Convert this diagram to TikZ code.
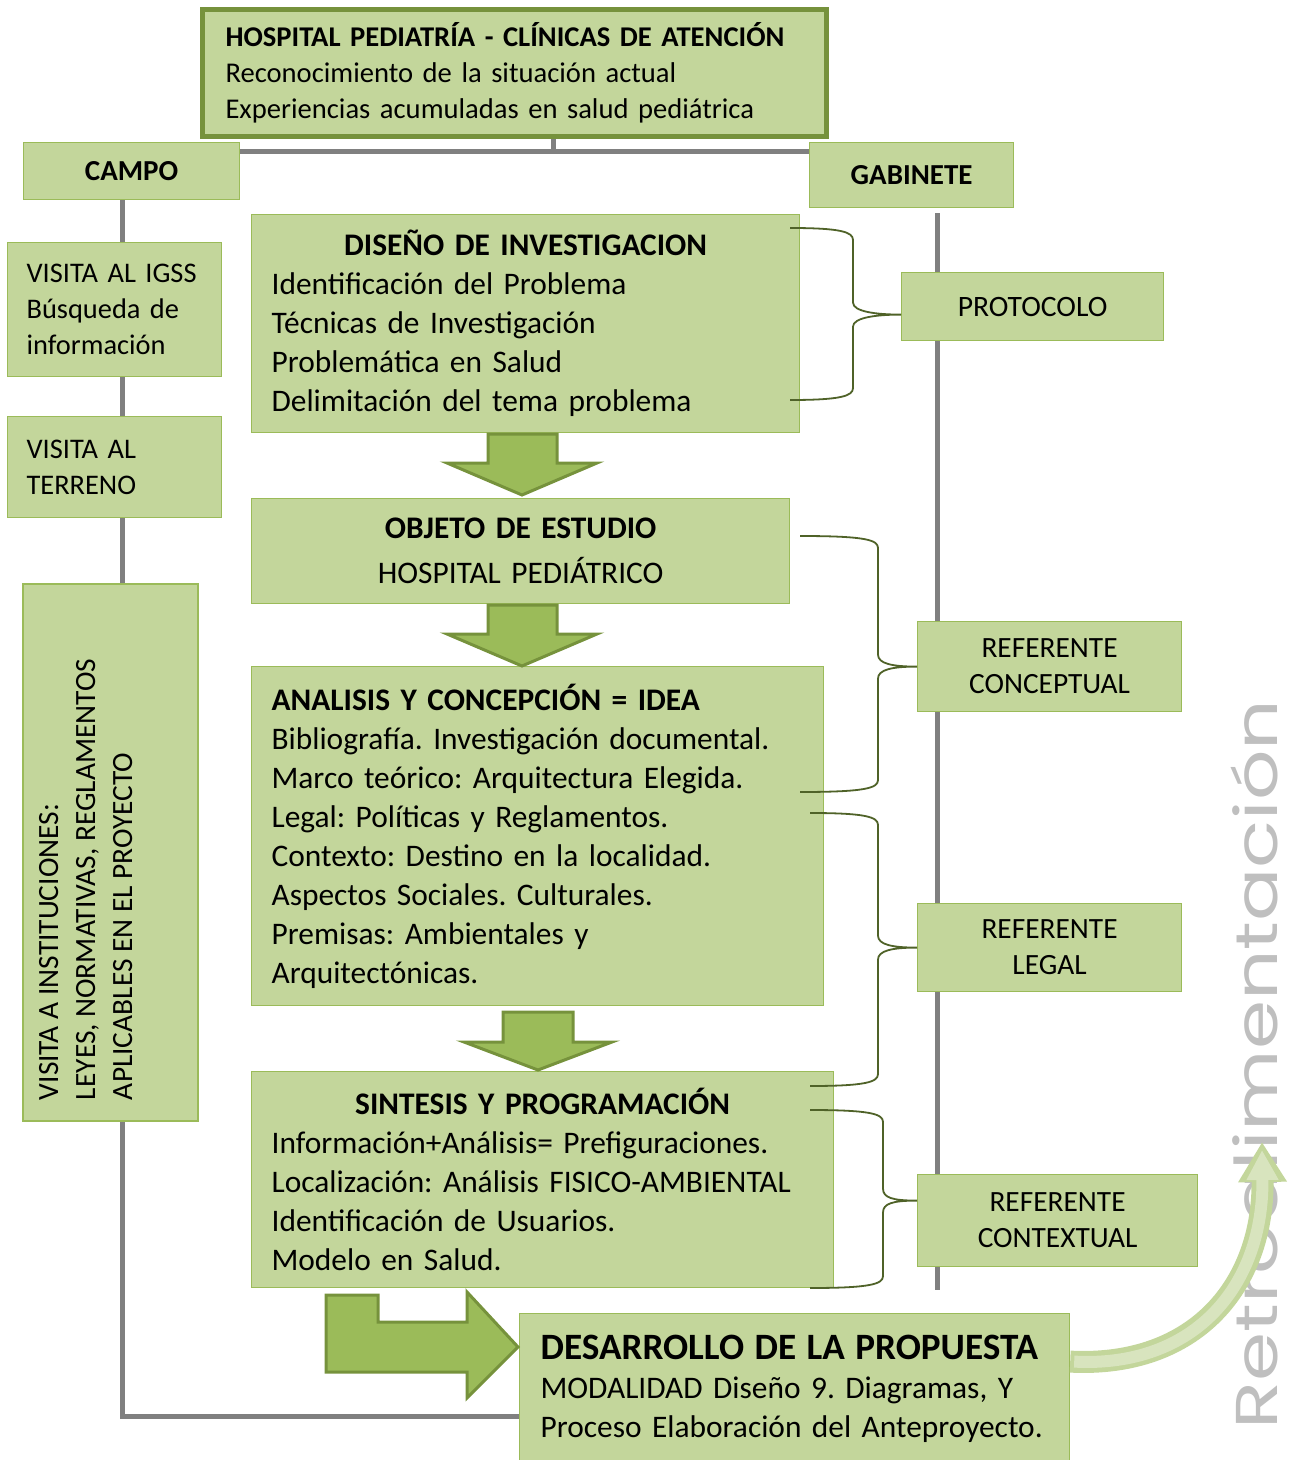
\documentclass[tikz,border=0pt]{standalone}
\usepackage{fontspec}
\setmainfont{Carlito}
\newfontfamily\retrofont{Poppins}
\usepackage{graphicx}
\usepackage{tikz}
\usetikzlibrary{positioning, arrows.meta, calc, backgrounds}
\definecolor{boxfill}{HTML}{C3D69B}
\definecolor{boxline}{HTML}{9BBB59}
\definecolor{darkline}{HTML}{76923C}
\definecolor{arrowfill}{HTML}{9BBB59}
\definecolor{bracecol}{HTML}{4F6228}
\definecolor{trunkgray}{HTML}{808080}
\definecolor{retrogray}{HTML}{BFBFBF}
\definecolor{retrolight}{HTML}{D8E4BE}
\frenchspacing

% centred title line inside a left aligned box
\newcommand{\titulo}[1]{\makebox[\linewidth]{\bfseries #1}}
% curly bracket: upper end, lower end, tip, spine
\newcommand{\llave}[4]{%
  \draw[brace] (#1) .. controls ($(#1 -| #4)+(-12,0)$) and ($(#1 -| #4)+(0,4)$) .. ($(#1 -| #4)+(0,12)$)
    -- ($(#3 -| #4)+(0,-12)$) .. controls ($(#3 -| #4)+(0,-3)$) and ($(#3)+(-25,0)$) .. (#3)
    .. controls ($(#3)+(-25,0)$) and ($(#3 -| #4)+(0,3)$) .. ($(#3 -| #4)+(0,12)$)
    -- ($(#2 -| #4)+(0,-12)$) .. controls ($(#2 -| #4)+(0,-4)$) and ($(#2 -| #4)+(-12,0)$) .. (#2);
}

\begin{document}
\begin{tikzpicture}[
        x={(0.5pt,0)}, y={(0,-0.5pt)},
        box/.style={draw=boxline, fill=boxfill, line width=0.6pt, inner xsep=10pt, inner ysep=0pt,
            anchor=north west, font=\fontsize{14.5}{18}\selectfont},
        listbox/.style={box, align=left, font=\fontsize{15.7}{19.5}\selectfont},
        tagbox/.style={box, align=center},
        trunk/.style={draw=trunkgray, line width=2.5pt},
        brace/.style={draw=bracecol, line width=0.9pt},
        blockarrow/.style={fill=arrowfill, draw=darkline, line width=1.5pt, line join=miter},
        retroarrow/.style={draw=boxfill, line width=11pt, -{Triangle[length=20pt, width=23pt]}},
        retroinner/.style={draw=retrolight, line width=6pt, -{Triangle[length=15pt, width=15pt]}}
    ]
    \useasboundingbox (0,0) rectangle (1299,1460);

    % Head box
    \node[box, draw=darkline, line width=2.5pt, align=left, inner xsep=11.5pt, text width=289pt,
        minimum width=312pt, minimum height=63.5pt, font=\fontsize{14.3}{18}\selectfont] (hospital) at (200,7)
        {\textbf{HOSPITAL PEDIATRÍA - CLÍNICAS DE ATENCIÓN}\\ Reconocimiento de la situación actual\\
         Experiencias acumuladas en salud pediátrica};

    % Branches
    \node[tagbox, font=\fontsize{14.5}{18}\selectfont\bfseries, minimum width=108pt, minimum height=28.5pt] (campo) at (23,142) {CAMPO};
    \node[tagbox, font=\fontsize{14.5}{18}\selectfont\bfseries, minimum width=102pt, minimum height=32.5pt] (gabinete) at (809,142) {GABINETE};

    % Campo column
    \node[box, align=left, text width=88pt, inner xsep=9.5pt, minimum width=107pt, minimum height=67pt,
        font=\fontsize{14.2}{18}\selectfont] (igss) at (7,242)
        {VISITA AL IGSS\\ Búsqueda de\\ información};
    \node[box, align=left, text width=88pt, inner xsep=9.5pt, minimum width=107pt, minimum height=50.5pt,
        font=\fontsize{14.2}{18}\selectfont] (terreno) at (7,416)
        {VISITA AL\\ TERRENO};
    \node[box, rotate=90, anchor=center, inner xsep=10.5pt] (instituciones) at (110.5,852.5)
        {\begin{minipage}[c][87.5pt][t]{247.5pt}\fontsize{14.7}{18.5}\selectfont\vspace*{8pt}%
         VISITA A INSTITUCIONES:\\ LEYES, NORMATIVAS, REGLAMENTOS\\ APLICABLES EN EL PROYECTO\end{minipage}};

    % Main steps
    \node[listbox, text width=254pt, minimum width=274pt, minimum height=109pt] (diseno) at (251,214)
        {\titulo{DISEÑO DE INVESTIGACION}\\ Identificación del Problema\\ Técnicas de Investigación\\
         Problemática en Salud\\ Delimitación del tema problema};
    \node[tagbox, font=\fontsize{15.7}{19.5}\selectfont, text width=249pt, minimum width=269pt, minimum height=52.5pt] (objeto) at (251,498)
        {\textbf{OBJETO DE ESTUDIO}\\[3pt] HOSPITAL PEDIÁTRICO};
    \node[listbox, text width=266pt, minimum width=286pt, minimum height=169.5pt] (analisis) at (251,666)
        {\textbf{ANALISIS Y CONCEPCIÓN = IDEA}\\ Bibliografía. Investigación documental.\\
         Marco teórico: Arquitectura Elegida.\\ Legal: Políticas y Reglamentos.\\
         Contexto: Destino en la localidad.\\ Aspectos Sociales. Culturales.\\
         Premisas: Ambientales y\\ Arquitectónicas.};
    \node[listbox, text width=271pt, minimum width=291pt, minimum height=108pt] (sintesis) at (251,1071)
        {\titulo{SINTESIS Y PROGRAMACIÓN}\\ Información+Análisis= Prefiguraciones.\\
         Localización: Análisis FISICO-AMBIENTAL\\ Identificación de Usuarios.\\ Modelo en Salud.};
    \node[listbox, font=\fontsize{15.7}{19.5}\selectfont, inner xsep=10.5pt, text width=254pt, minimum width=275pt, minimum height=75pt] (desarrollo) at (519,1313)
        {{\fontsize{18.6}{21}\selectfont\bfseries DESARROLLO DE LA PROPUESTA}\\
         MODALIDAD Diseño 9. Diagramas, Y\\ Proceso Elaboración del Anteproyecto.};

    % Gabinete column
    \node[tagbox, font=\fontsize{14.8}{18}\selectfont, minimum width=131pt, minimum height=34pt] (protocolo) at (901,272) {PROTOCOLO};
    \node[tagbox, font=\fontsize{14.7}{18}\selectfont, minimum width=132pt, minimum height=45pt] (conceptual) at (917,621) {REFERENTE\\ CONCEPTUAL};
    \node[tagbox, font=\fontsize{14.7}{18}\selectfont, minimum width=132pt, minimum height=44pt] (legal) at (917,903) {REFERENTE\\ LEGAL};
    \node[tagbox, font=\fontsize{14.7}{18}\selectfont, minimum width=140pt, minimum height=46pt] (contextual) at (917,1174) {REFERENTE\\ CONTEXTUAL};

    % Grey trunk lines behind the boxes
    \begin{scope}[on background layer]
        \coordinate (hub) at (553,152);
        \coordinate (lcorner) at (122,1416);
        \coordinate (rend) at (937,1290);
        \draw[trunk] (hub |- hospital.south) -- (hub);
        \draw[trunk] (campo.east |- hub) -- (gabinete.west |- hub);
        \draw[trunk] (campo.south -| lcorner) -- (lcorner) -- (desarrollo.west |- lcorner);
        \draw[trunk] ($(gabinete.south -| rend)+(0,5)$) -- (rend);
    \end{scope}

    % Block arrows between steps
    \foreach \t in {434, 605} {
        \draw[blockarrow] (488,\t) -- (557,\t) -- (557,\t+29) -- (597,\t+29) -- (522,\t+61)
            -- (447,\t+29) -- (488,\t+29) -- cycle;
    }
    \draw[blockarrow] (503,1012) -- (573,1012) -- (573,1042) -- (612,1042) -- (538,1070)
        -- (464,1042) -- (503,1042) -- cycle;
    \draw[blockarrow] (326,1295) -- (378,1295) -- (378,1322) -- (467,1322) -- (467,1292)
        -- (518,1347) -- (467,1398) -- (467,1372) -- (326,1372) -- cycle;

    % Brackets to the references
    \coordinate (dA) at (790,228);  \coordinate (dB) at (790,400);  \coordinate (dS) at (853,0);
    \coordinate (cA) at (800,536);  \coordinate (cB) at (800,792);  \coordinate (cS) at (878,0);
    \coordinate (lA) at (810,813);  \coordinate (lB) at (810,1086); \coordinate (lS) at (878,0);
    \coordinate (xA) at (810,1110); \coordinate (xB) at (810,1288); \coordinate (xS) at (883,0);
    \coordinate (dT) at ($(protocolo.west)+(0,8)$);
    \coordinate (xT) at ($(contextual.west)+(0,-20)$);
    \llave{dA}{dB}{dT}{dS}
    \llave{cA}{cB}{conceptual.west}{cS}
    \llave{lA}{lB}{legal.west}{lS}
    \llave{xA}{xB}{xT}{xS}

    % Feedback
    \node[rotate=90, anchor=base west, inner sep=0pt, text=retrogray,
        font=\retrofont\fontsize{29.5}{29.5}\selectfont] (retro) at (1277,1430)
        {\scalebox{1.34}[1]{Retroalimentación}};
    \coordinate (retroend) at (1262,1142);
    \draw[retroarrow] ($(desarrollo.east)+(0,-27)$) .. controls (1195,1368) and (1264,1285) .. (retroend);
    \draw[retroinner] ($(desarrollo.east)+(4,-27)$) .. controls (1195,1368) and (1264,1285) .. ($(retroend)+(0,8)$);
\end{tikzpicture}
\end{document}
